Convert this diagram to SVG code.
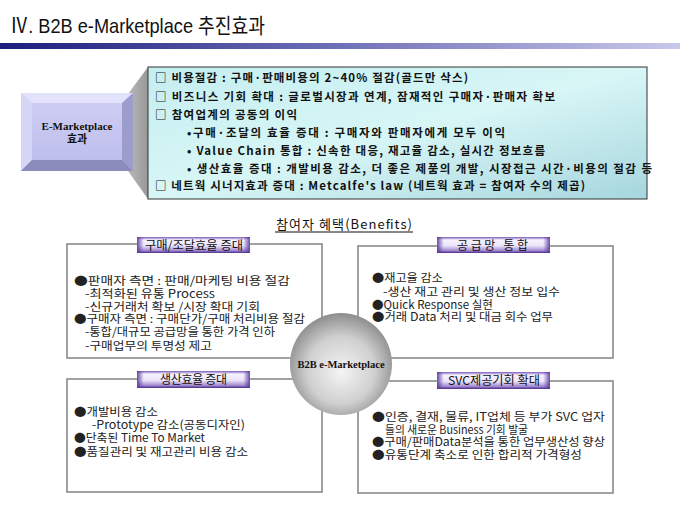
<svg xmlns="http://www.w3.org/2000/svg" width="680" height="510" viewBox="0 0 680 510">
<defs>
<linearGradient id="bar" x1="0" y1="0" x2="1" y2="0">
<stop offset="0" stop-color="#1c1c7c"/>
<stop offset="0.5" stop-color="#7070b8"/>
<stop offset="1" stop-color="#c8c8ea"/>
</linearGradient>
<linearGradient id="cyan" x1="0" y1="0" x2="1" y2="1">
<stop offset="0" stop-color="#c4eef0"/>
<stop offset="0.5" stop-color="#d8f6f6"/>
<stop offset="1" stop-color="#a6d6de"/>
</linearGradient>
<linearGradient id="funnel" x1="0" y1="0" x2="1" y2="0">
<stop offset="0" stop-color="#b8b8b8"/>
<stop offset="1" stop-color="#989898"/>
</linearGradient>
<linearGradient id="face" x1="0" y1="0" x2="0" y2="1">
<stop offset="0" stop-color="#cfcff4"/>
<stop offset="1" stop-color="#bcbcec"/>
</linearGradient>
<linearGradient id="tab" x1="0" y1="0" x2="0" y2="1">
<stop offset="0" stop-color="#7a5ab8"/>
<stop offset="0.18" stop-color="#f6f2ff"/>
<stop offset="0.55" stop-color="#ebe4fa"/>
<stop offset="0.85" stop-color="#a088d0"/>
<stop offset="1" stop-color="#4a2a8a"/>
</linearGradient>
<linearGradient id="tabcap" x1="0" y1="0" x2="1" y2="0">
<stop offset="0" stop-color="#5a3a9a" stop-opacity="0.9"/>
<stop offset="0.06" stop-color="#5a3a9a" stop-opacity="0"/>
<stop offset="0.94" stop-color="#5a3a9a" stop-opacity="0"/>
<stop offset="1" stop-color="#5a3a9a" stop-opacity="0.9"/>
</linearGradient>
<radialGradient id="ball" cx="0.5" cy="0.55" r="0.55" fx="0.5" fy="0.58">
<stop offset="0" stop-color="#f4f4f4"/>
<stop offset="0.6" stop-color="#d0d0d0"/>
<stop offset="1" stop-color="#8c8c8c"/>
</radialGradient>
</defs>
<style>
.ttl{font-family:"Liberation Sans","Noto Sans CJK KR",sans-serif;font-size:21px;fill:#111}
.top{font-family:"Noto Sans CJK KR",sans-serif;font-size:11.5px;font-weight:bold;fill:#111}
.bx{fill:#fff;stroke:#8a8a8a;stroke-width:1.6}
.txt{font-family:"Noto Sans CJK KR",sans-serif;font-size:11.5px;fill:#222}
.tabt{font-family:"Noto Sans CJK KR",sans-serif;font-size:12px;fill:#111}
.serif{font-family:"Liberation Serif","Noto Sans CJK KR",serif;font-weight:bold;fill:#111;text-anchor:middle}
</style>

<g id="title">
<text class="ttl" x="10" y="33" textLength="255" lengthAdjust="spacingAndGlyphs">Ⅳ. B2B e-Marketplace 추진효과</text>
<rect x="0" y="43" width="680" height="6" fill="url(#bar)"/>
</g>

<g id="funnel">
<polygon points="128,94 148,67 148,199 128,171" fill="url(#funnel)"/>
</g>

<g id="emarket-box">
<rect x="21" y="93" width="112" height="78" fill="url(#face)"/>
<polygon points="21,93 133,93 122,103 32,103" fill="#e2e2fc"/>
<polygon points="21,93 32,103 32,160 21,171" fill="#d6d6f6"/>
<polygon points="133,93 133,171 122,160 122,103" fill="#9d9dcc"/>
<polygon points="21,171 32,160 122,160 133,171" fill="#8c8cbc"/>
<text class="serif" x="77" y="130" font-size="11">E-Marketplace</text>
<text class="serif" x="77" y="143" font-size="11">효과</text>
</g>

<g id="summary-box">
<rect x="148" y="67" width="499" height="132" fill="url(#cyan)" stroke="#333" stroke-width="1"/>
<text class="top" x="155" y="82" textLength="313" lengthAdjust="spacing">□ 비용절감 : 구매·판매비용의 2~40% 절감(골드만 삭스)</text>
<text class="top" x="155" y="101" textLength="400" lengthAdjust="spacing">□ 비즈니스 기회 확대 : 글로벌시장과 연계, 잠재적인 구매자·판매자 확보</text>
<text class="top" x="155" y="119" textLength="142" lengthAdjust="spacing">□ 참여업계의 공동의 이익</text>
<text class="top" x="187" y="137" textLength="318" lengthAdjust="spacing">•구매·조달의 효율 증대 : 구매자와 판매자에게 모두 이익</text>
<text class="top" x="187" y="155" textLength="358" lengthAdjust="spacing">• Value Chain 통합 : 신속한 대응, 재고율 감소, 실시간 정보흐름</text>
<text class="top" x="187" y="173" textLength="465" lengthAdjust="spacing">• 생산효율 증대 : 개발비용 감소, 더 좋은 제품의 개발, 시장접근 시간·비용의 절감 등</text>
<text class="top" x="155" y="190" textLength="430" lengthAdjust="spacing">□  네트웍 시너지효과 증대 : Metcalfe's law  (네트웍 효과 = 참여자 수의 제곱)</text>
</g>

<g id="benefits-heading">
<text x="276" y="229" font-family="Noto Sans CJK KR, sans-serif" font-size="13" fill="#111" textLength="136" lengthAdjust="spacing">참여자 혜택(Benefits)</text>
<line x1="275" y1="232" x2="413" y2="232" stroke="#111" stroke-width="1"/>
</g>

<g id="box-purchase">
<rect class="bx" x="67" y="244" width="255" height="114"/>
<rect x="137" y="237" width="113" height="16" fill="url(#tab)"/>
<rect x="137" y="237" width="113" height="16" fill="url(#tabcap)"/>
<text class="tabt" x="145" y="250" textLength="98" lengthAdjust="spacingAndGlyphs">구매/조달효율 증대</text>
<text class="txt" x="74" y="285" textLength="216" lengthAdjust="spacingAndGlyphs">●판매자 측면 : 판매/마케팅 비용 절감</text>
<text class="txt" x="85" y="298" textLength="130" lengthAdjust="spacingAndGlyphs">-최적화된 유통 Process</text>
<text class="txt" x="85" y="311" textLength="175" lengthAdjust="spacingAndGlyphs">-신규거래처 확보 /시장 확대 기회</text>
<text class="txt" x="74" y="323" textLength="231" lengthAdjust="spacingAndGlyphs">●구매자 측면 : 구매단가/구매 처리비용  절감</text>
<text class="txt" x="85" y="336" textLength="190" lengthAdjust="spacingAndGlyphs">-통합/대규모 공급망을 통한 가격 인하</text>
<text class="txt" x="85" y="350" textLength="127" lengthAdjust="spacingAndGlyphs">-구매업무의 투명성 제고</text>
</g>

<g id="box-supply">
<rect class="bx" x="358" y="246" width="255" height="112"/>
<rect x="437" y="237" width="113" height="16" fill="url(#tab)"/>
<rect x="437" y="237" width="113" height="16" fill="url(#tabcap)"/>
<text class="tabt" x="457" y="250" textLength="71" lengthAdjust="spacing">공급망 통합</text>
<text class="txt" x="372" y="282" textLength="71" lengthAdjust="spacingAndGlyphs">●재고율 감소</text>
<text class="txt" x="383" y="296" textLength="177" lengthAdjust="spacingAndGlyphs">-생산 재고 관리 및 생산 정보 입수</text>
<text class="txt" x="372" y="309" textLength="121" lengthAdjust="spacingAndGlyphs">●Quick Response 실현</text>
<text class="txt" x="372" y="321" textLength="181" lengthAdjust="spacingAndGlyphs">●거래 Data 처리 및 대금 회수 업무</text>
</g>

<g id="box-production">
<rect class="bx" x="67" y="379" width="255" height="113"/>
<rect x="137" y="371" width="113" height="17" fill="url(#tab)"/>
<rect x="137" y="371" width="113" height="17" fill="url(#tabcap)"/>
<text class="tabt" x="160" y="384" textLength="67" lengthAdjust="spacing">생산효율 증대</text>
<text class="txt" x="74" y="416" textLength="84" lengthAdjust="spacingAndGlyphs">●개발비용 감소</text>
<text class="txt" x="92" y="429" textLength="153" lengthAdjust="spacingAndGlyphs">-Prototype 감소(공동디자인)</text>
<text class="txt" x="74" y="442" textLength="131" lengthAdjust="spacingAndGlyphs">●단축된 Time To Market</text>
<text class="txt" x="74" y="456" textLength="174" lengthAdjust="spacingAndGlyphs">●품질관리 및 재고관리 비용 감소</text>
</g>

<g id="box-svc">
<rect class="bx" x="358" y="381" width="255" height="112"/>
<rect x="437" y="372" width="113" height="17" fill="url(#tab)"/>
<rect x="437" y="372" width="113" height="17" fill="url(#tabcap)"/>
<text class="tabt" x="448" y="385" textLength="92" lengthAdjust="spacingAndGlyphs">SVC제공기회 확대</text>
<text class="txt" x="372" y="421" textLength="233" lengthAdjust="spacingAndGlyphs">●인증, 결재, 물류, IT업체 등 부가 SVC 업자</text>
<text class="txt" x="385" y="434" textLength="143" lengthAdjust="spacingAndGlyphs">들의 새로운 Business 기회 발굴</text>
<text class="txt" x="372" y="446" textLength="233" lengthAdjust="spacingAndGlyphs">●구매/판매Data분석을 통한 업무생산성 향상</text>
<text class="txt" x="372" y="459" textLength="210" lengthAdjust="spacingAndGlyphs">●유통단계 축소로 인한 합리적 가격형성</text>
</g>

<g id="hub">
<circle cx="341" cy="364" r="51" fill="url(#ball)"/>
<text class="serif" x="341" y="368" font-size="10.5">B2B e-Marketplace</text>
</g>
</svg>
